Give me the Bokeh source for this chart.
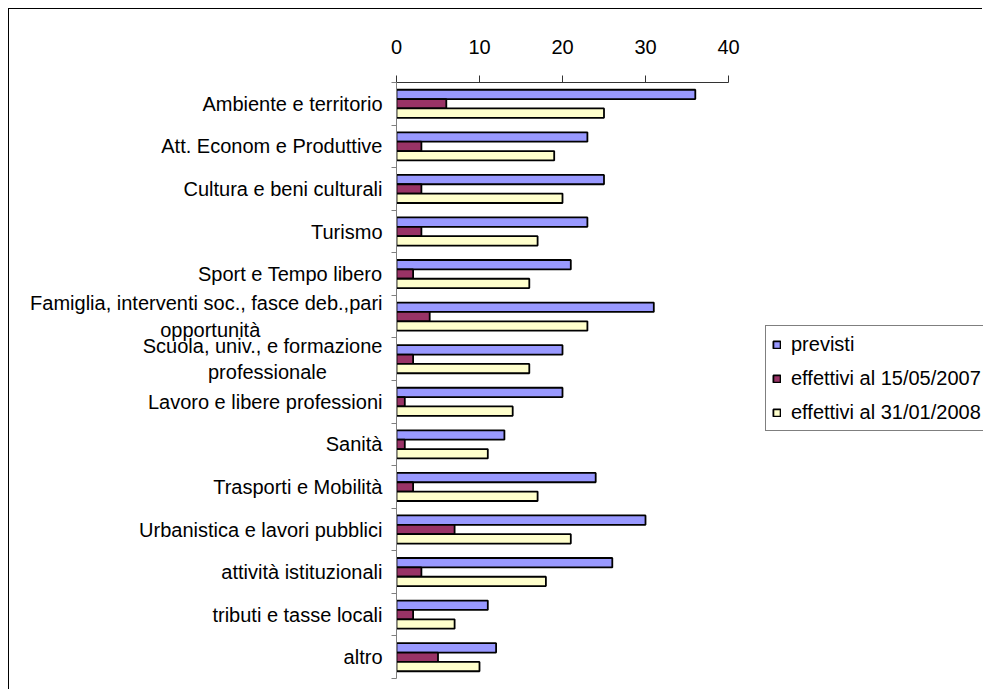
from bokeh.plotting import figure
from bokeh.models import Range1d, FixedTicker, Legend, LegendItem
from bokeh.embed import file_html
from bokeh.resources import INLINE

NB = "\u00a0"
categories = [
    "Ambiente e territorio",
    "Att. Econom e Produttive",
    "Cultura e beni culturali",
    "Turismo",
    "Sport e Tempo libero",
    "Famiglia, interventi soc., fasce deb.,pari\nopportunità" + NB * 22,
    "Scuola, univ., e formazione\nprofessionale" + NB * 10,
    "Lavoro e libere professioni",
    "Sanità",
    "Trasporti e Mobilità",
    "Urbanistica e lavori pubblici",
    "attività istituzionali",
    "tributi e tasse locali",
    "altro",
]
previsti = [36, 23, 25, 23, 21, 31, 20, 20, 13, 24, 30, 26, 11, 12]
eff_2007 = [6, 3, 3, 3, 2, 4, 2, 1, 1, 2, 7, 3, 2, 5]
eff_2008 = [25, 19, 20, 17, 16, 23, 16, 14, 11, 17, 21, 18, 7, 10]
x_ticks = [0, 10, 20, 30, 40]
series_names = ["previsti", "effettivi al 15/05/2007", "effettivi al 31/01/2008"]
series_colors = ["#9999FF", "#993366", "#FFFFCC"]

FONT = "Liberation Sans"
n = len(categories)
pos = list(range(1, n + 1))
bar_h = 0.22

# axis 0..40 spans 332 px; the frame continues to the right edge (587 px) to hold the legend
axis_max = 40
frame_w, axis_w = 587, 332
x_end = axis_max * frame_w / axis_w

p = figure(width=974, height=681,
           x_range=Range1d(0, x_end), y_range=Range1d(n + 0.5, 0.5),
           x_axis_location="above",
           output_backend="svg", toolbar_location=None,
           min_border_left=387, min_border_right=0,
           min_border_top=73, min_border_bottom=12)
p.styles = {"margin-left": "8px", "margin-top": "8px",
            "border-left": "1px solid #000", "border-top": "1px solid #000"}

renderers = []
for k, (vals, col) in enumerate(zip([previsti, eff_2007, eff_2008], series_colors)):
    ys = [y + (k - 1) * bar_h for y in pos]
    r = p.hbar(y=ys, left=0, right=vals, height=bar_h,
               fill_color=col, line_color="#000000", line_width=1.8)
    renderers.append(r)

p.xgrid.visible = False
p.ygrid.visible = False
p.outline_line_color = None
p.background_fill_color = "white"
p.border_fill_color = "white"

xa = p.xaxis[0]
xa.ticker = FixedTicker(ticks=x_ticks)
xa.bounds = (0, axis_max)
xa.major_tick_out = 7
xa.major_tick_in = 0
xa.minor_tick_out = 0
xa.minor_tick_in = 0
xa.axis_line_color = "#333333"
xa.major_tick_line_color = "#333333"
xa.major_label_text_font = FONT
xa.major_label_text_font_size = "20px"
xa.major_label_text_color = "#000000"
xa.major_label_standoff = 22

ya = p.yaxis[0]
ya.ticker = FixedTicker(ticks=pos, minor_ticks=[i + 0.5 for i in range(n + 1)])
ya.major_label_overrides = {y: c for y, c in zip(pos, categories)}
ya.major_tick_out = 0
ya.major_tick_in = 0
ya.minor_tick_out = 5
ya.minor_tick_in = 0
ya.axis_line_color = "#808080"
ya.minor_tick_line_color = "#808080"
ya.major_label_text_font = FONT
ya.major_label_text_font_size = "20px"
ya.major_label_text_color = "#000000"
ya.major_label_text_line_height = 1.2
ya.major_label_standoff = 9

legend = Legend(
    items=[LegendItem(label=nm, renderers=[r]) for nm, r in zip(series_names, renderers)],
    location=(369, 247),
    label_text_font=FONT, label_text_font_size="20px", label_text_color="#000000",
    glyph_width=9, glyph_height=9, label_standoff=10, label_height=24,
    spacing=10, padding=6, margin=0,
    border_line_color="#000000", border_line_width=1,
    background_fill_color="white", background_fill_alpha=1.0,
)
p.add_layout(legend, "center")

open("out.html", "w").write(file_html(p, INLINE))
